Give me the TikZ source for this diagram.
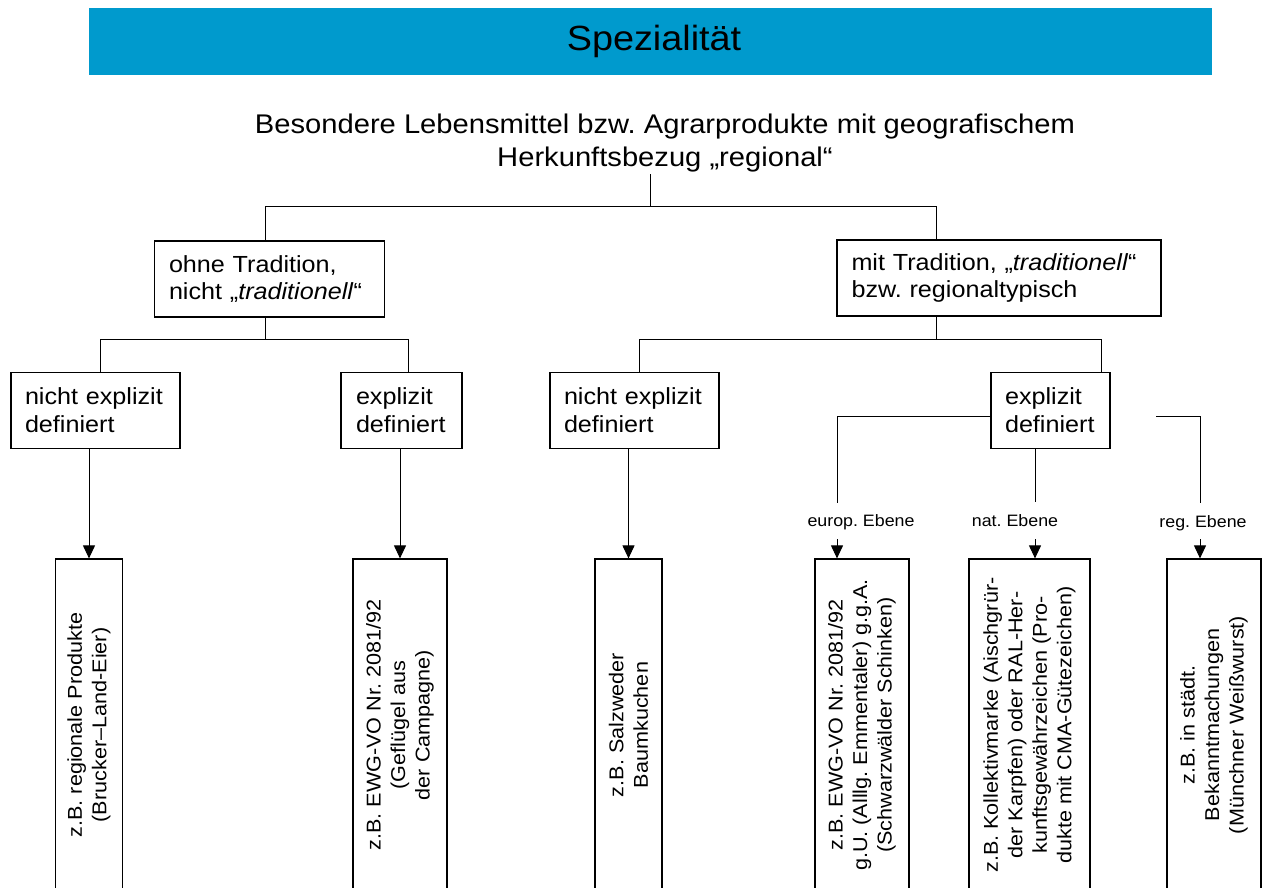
\documentclass[tikz,border=0pt]{standalone}
\usepackage{fontspec}
\setmainfont[FakeStretch=1.08]{Liberation Sans}
\usepackage{tikz}
\usetikzlibrary{arrows.meta}
\definecolor{bannerblue}{HTML}{009ACD}
\frenchspacing

\tikzset{
  banner/.style={fill=bannerblue, minimum width=1123pt, minimum height=67pt,
    font=\fontsize{35}{40}\selectfont},
  catbox/.style={draw, line width=1.2pt, align=left, inner xsep=14.5pt,
    minimum height=76pt, font=\fontsize{23.3}{27.7}\selectfont},
  examplebox/.style={draw, line width=1.2pt, rotate=90, align=center,
    minimum width=332pt, font=\fontsize{20}{24.5}\selectfont},
  levellabel/.style={font=\fontsize{16.5}{19}\selectfont},
  link/.style={line width=1pt},
  arrowlink/.style={link, -{Triangle[width=12pt,length=13pt]}}
}

\begin{document}
\begin{tikzpicture}[x=1pt,y=-1pt]
  \useasboundingbox (0,0) rectangle (1263,888);
  \node[banner] (head) at (650.5,41.5) {\hspace*{7pt}Spezialität};
  \node[align=center, inner sep=2pt, font=\fontsize{27}{33}\selectfont] (title) at (665,143)
    {Besondere Lebensmittel bzw. Agrarprodukte mit geografischem\\ Herkunftsbezug „regional“};

  % second level
  \node[catbox, text width=201pt] (ohne) at (269.5,279) {ohne Tradition,\\ nicht „\textit{traditionell}“};
  \node[catbox, text width=295pt] (mit) at (999,278) {mit Tradition, „\textit{traditionell}“\\ bzw. regionaltypisch};

  % third level
  \node[catbox, inner xsep=14pt, text width=141pt] (nexl) at (95.5,410.5) {nicht explizit\\ definiert};
  \node[catbox, inner xsep=15pt, text width=91pt] (exl) at (401.5,410.5) {explizit\\ definiert};
  \node[catbox, inner xsep=14pt, text width=141pt] (nexm) at (634.5,410.5) {nicht explizit\\ definiert};
  \node[catbox, inner xsep=14pt, text width=91pt] (exr) at (1050.5,410.5) {explizit\\ definiert};

  % examples
  \node[examplebox, minimum height=67.5pt] (b1) at (89,725) {z.B. regionale Produkte\\ (Brucker--Land-Eier)};
  \node[examplebox, minimum height=94pt] (b2) at (400,725) {z.B. EWG-VO Nr. 2081/92\\ (Geflügel aus\\ der Campagne)};
  \node[examplebox, minimum height=67pt] (b3) at (628.5,725) {z.B. Salzweder\\ Baumkuchen};
  \node[examplebox, minimum height=94pt] (b4) at (862,725) {z.B. EWG-VO Nr. 2081/92\\ g.U. (Alllg. Emmentaler) g.g.A.\\ (Schwarzwälder Schinken)};
  \node[examplebox, minimum height=121pt] (b5) at (1029.5,725) {z.B. Kollektivmarke (Aischgrür-\\ der Karpfen) oder RAL-Her-\\ kunftsgewährzeichen (Pro-\\ dukte mit CMA-Gütezeichen)};
  \node[examplebox, minimum height=94pt] (b6) at (1214,725) {z.B. in städt.\\ Bekanntmachungen\\ (Münchner Weißwurst)};

  \node[levellabel] (eulabel) at (861,522) {europ. Ebene};
  \node[levellabel] (natlabel) at (1015,521) {nat. Ebene};
  \node[levellabel] (reglabel) at (1203,523) {reg. Ebene};

  % tree lines
  \coordinate (split) at (650,206);
  \draw[link] (title.south -| split) -- (split);
  \draw[link] (split) -| ([xshift=-4.5pt]ohne.north);
  \draw[link] (split) -| ([xshift=-63pt]mit.north);

  \coordinate (ohnefork) at (265,339);
  \draw[link] (ohne.south -| ohnefork) -- (ohnefork);
  \draw[link] (ohnefork) -| ([xshift=4.5pt]nexl.north);
  \draw[link] (ohnefork) -| ([xshift=6.5pt]exl.north);

  \coordinate (mitfork) at (936,339);
  \draw[link] (mit.south -| mitfork) -- (mitfork);
  \draw[link] (mitfork) -| ([xshift=4.5pt]nexm.north);
  \draw[link] (mitfork) -| ([xshift=50.5pt]exr.north);

  \draw[arrowlink] (nexl.south -| b1.east) -- (b1.east);
  \draw[arrowlink] (exl.south -| b2.east) -- (b2.east);
  \draw[arrowlink] (nexm.south -| b3.east) -- (b3.east);

  % levels under explizit definiert
  \coordinate (euend) at (837,503);
  \coordinate (eustart) at (837,539);
  \coordinate (natend) at (1035,502);
  \coordinate (natstart) at (1035,539);
  \coordinate (regfree) at (1156,416);
  \coordinate (regend) at (1200,503);
  \coordinate (regstart) at (1200,539);
  \draw[link] ([yshift=-5.5pt]exr.west) -| (euend);
  \draw[link] (exr.south -| natend) -- (natend);
  \draw[link] (regfree) -| (regend);
  \draw[arrowlink] (eustart) -- (eustart |- b4.east);
  \draw[arrowlink] (natstart) -- (natstart |- b5.east);
  \draw[arrowlink] (regstart) -- (regstart |- b6.east);
\end{tikzpicture}
\end{document}
